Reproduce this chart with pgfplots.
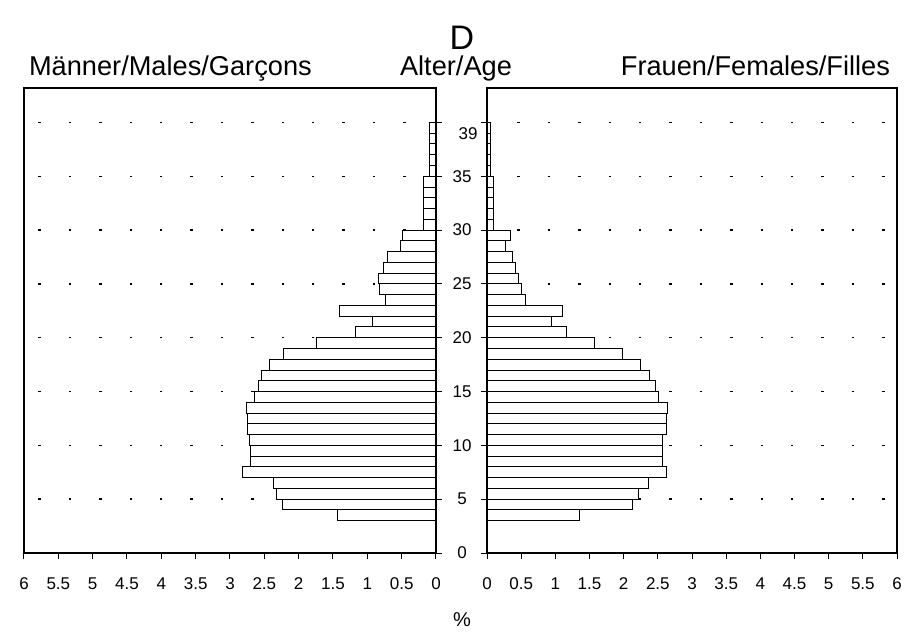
\documentclass[border=0pt]{standalone}
\usepackage{fontspec}
\setmainfont{Liberation Sans}
\usepackage{pgfplots}
\usepackage{pgfplotstable}
\pgfplotsset{compat=1.18}

% age, males (%), females (%)
\pgfplotstableread{
age m    f
3   1.43 1.36
4   2.24 2.13
5   2.33 2.21
6   2.36 2.37
7   2.82 2.63
8   2.70 2.57
9   2.70 2.57
10  2.72 2.57
11  2.75 2.62
12  2.75 2.63
13  2.76 2.64
14  2.64 2.51
15  2.58 2.46
16  2.54 2.38
17  2.42 2.25
18  2.22 1.99
19  1.74 1.57
20  1.17 1.16
21  0.92 0.94
22  1.41 1.11
23  0.74 0.57
24  0.82 0.51
25  0.84 0.46
26  0.77 0.41
27  0.70 0.37
28  0.52 0.27
29  0.49 0.35
30  0.18 0.10
31  0.18 0.10
32  0.18 0.10
33  0.18 0.10
34  0.18 0.10
35  0.09 0.05
36  0.09 0.05
37  0.09 0.05
38  0.09 0.05
39  0.09 0.05
}\pyr

\pgfplotsset{
  pyr/.style={
    scale only axis,
    height=232.5pt,
    xmin=0, xmax=6, ymin=0, ymax=43.2,
    xbar, bar width=1,
    axis line style={black, line width=0.7pt},
    xtick={0,0.5,1,1.5,2,2.5,3,3.5,4,4.5,5,5.5,6},
    xtick pos=bottom,
    tick align=outside,
    major tick length=3pt,
    tick style={black, line width=0.5pt},
    ticklabel style={font=\fontsize{8.5}{10}\selectfont},
    /pgf/number format/assume math mode=true,
    xticklabel style={anchor=center, yshift=-12.5pt},
    ytick={0,5,...,40},
    ymajorgrids,
    grid style={black, line width=0.7pt, dash pattern=on 1.2pt off 14pt},
  },
  bars/.style={draw=black, fill=white, line width=0.5pt},
}

\begin{document}
\begin{tikzpicture}
\begin{axis}[pyr, at={(0,0)}, anchor=south west, width=206pt,
  x dir=reverse, ytick pos=right, yticklabel=\empty]
  \addplot[bars] table[x=m, y expr=\thisrow{age}+0.5] {\pyr};
\end{axis}
\begin{axis}[pyr, at={(231.5pt,0)}, anchor=south west, width=205pt,
  ytick pos=left,
  yticklabels={0,5,10,15,20,25,30,35,{}},
  yticklabel style={anchor=center, xshift=-9.5pt},
  extra y ticks={39}, extra y tick labels={39},
  extra y tick style={major tick length=0pt, grid=none}]
  \addplot[bars] table[x=f, y expr=\thisrow{age}+0.5] {\pyr};
\end{axis}
\node[font=\fontsize{17}{20}\selectfont] at (219pt,257.5pt) {D};
\node[font=\fontsize{13.6}{16}\selectfont, anchor=base west] at (-1pt,238.5pt) {Männer/Males/Garçons};
\node[font=\fontsize{13.6}{16}\selectfont, anchor=base] at (216pt,238.5pt) {Alter/Age};
\node[font=\fontsize{13.6}{16}\selectfont, anchor=base east] at (436.5pt,238.5pt) {Frauen/Females/Filles};
\node[font=\fontsize{10}{12}\selectfont] at (219pt,-33.5pt) {\%};
\pgfresetboundingbox
\path (-12pt,-39.5pt) rectangle (450pt,276.5pt);
\end{tikzpicture}
\end{document}
